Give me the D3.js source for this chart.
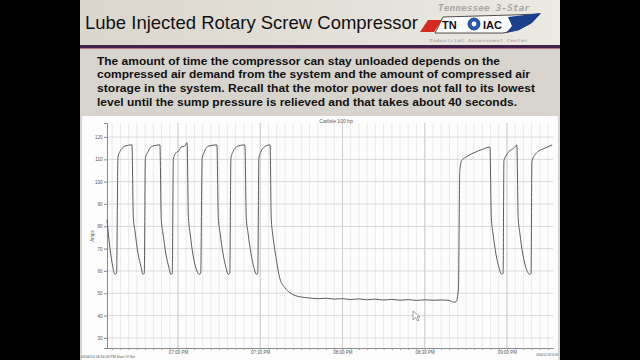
<!DOCTYPE html>
<html>
<head>
<meta charset="utf-8">
<script src="https://cdn.jsdelivr.net/npm/d3@7"></script>
<style>
body { margin: 0; background: #000; }
svg { display: block; font-family: "Liberation Sans", Arial, sans-serif; }
</style>
</head>
<body>
<script>
// data (clock time, amps)
var times = [
  "18:34:06","18:35:12","18:36:12","18:37:00","18:37:36","18:38:06","18:38:48","18:39:36","18:40:42","18:43:12",
  "18:43:42","18:44:18","18:45:24","18:46:30","18:47:12","18:47:42",
  "18:48:06","18:49:06","18:49:48","18:50:54","18:53:24",
  "18:53:54","18:54:30","18:55:36","18:56:42","18:57:24","18:57:54",
  "18:58:18","18:59:18","19:00:24","19:01:06","19:02:30","19:03:18",
  "19:03:48","19:04:24","19:05:30","19:06:36","19:07:42","19:08:18",
  "19:08:48","19:09:30","19:10:12","19:11:18","19:14:12",
  "19:14:42","19:15:18","19:16:24","19:17:30","19:18:18","19:18:54",
  "19:19:18","19:20:06","19:20:48","19:21:54","19:24:24",
  "19:24:54","19:25:30","19:26:36","19:27:42","19:28:36","19:29:06",
  "19:29:30","19:30:18","19:31:00","19:32:06","19:33:36",
  "19:34:00","19:34:36","19:35:42","19:37:12","19:39:00","19:40:48","19:42:42","19:45:12",
  "19:48:00","19:51:00","19:54:00","19:57:00","20:00:00","20:03:00","20:06:00","20:09:00",
  "20:12:00","20:15:00","20:18:00","20:21:00","20:24:00","20:27:00","20:30:00","20:33:00",
  "20:36:00","20:39:00","20:40:36","20:41:30","20:42:18","20:42:48",
  "20:43:30","20:45:00","20:48:00","20:51:00","20:53:48",
  "20:54:18","20:54:54","20:56:00","20:57:06","20:58:06","20:58:36",
  "20:58:54","20:59:36","21:00:42","21:02:30","21:03:36",
  "21:04:06","21:04:42","21:05:48","21:06:54","21:08:24","21:08:48",
  "21:09:06","21:10:12","21:11:18","21:13:48","21:16:30"
];
var amps = [
  83,70,62,58.5,59,111,113.5,115,116,116.5,
  84,78,68,62,58.5,59,
  110.5,113.5,115,116,116.5,
  83,77,67.5,61.5,58.5,59,
  110,113,114,115.5,116,117.5,
  84,77,67,61,58.5,59,
  110.5,113,115,116,116.5,
  84,77.5,68,61.5,58.5,59,
  110.5,113.5,115,116,116.5,
  84,77.5,68,61.5,58.5,59,
  110.5,113.5,115,116,116.5,
  84,76,66.5,56.5,52.5,50.3,49,48.3,
  47.9,47.6,47.8,47.4,47.6,47.2,47.5,47.1,
  47.4,47.0,47.3,46.9,47.2,46.8,47.1,46.9,
  47.0,46.8,46.0,46.3,52,105,
  109.5,111,113,114.5,115.5,
  84,77,67.5,61.5,58.5,59,
  109.5,111.5,113.5,115,116.5,
  84,77,67.5,61.5,58.5,59,
  109,112,113.5,115,116.5
];
var yTicks = [30, 40, 50, 60, 70, 80, 90, 100, 110, 120];
var chartTitle = "Carlisle 100 hp";
var slideTitle = "Lube Injected Rotary Screw Compressor";
var paragraph = [
  "The amount of time the compressor can stay unloaded depends on the",
  "compressed air demand from the system and the amount of compressed air",
  "storage in the system.  Recall that the motor power does not fall to its lowest",
  "level until the sump pressure is relieved and that takes about 40 seconds."
];

var W = 640, H = 360;
var svg = d3.select("body").append("svg").attr("width", W).attr("height", H);

// black pillarbox, then the slide
svg.append("rect").attr("width", W).attr("height", H).attr("fill", "#000");

var defs = svg.append("defs");
var grad = defs.append("linearGradient").attr("id", "band");
grad.append("stop").attr("offset", "0").attr("stop-color", "#dad6cd");
grad.append("stop").attr("offset", "1").attr("stop-color", "#ece9e3");

svg.append("rect").attr("x", 80).attr("y", 0).attr("width", 480).attr("height", 46).attr("fill", "url(#band)");
svg.append("rect").attr("x", 80).attr("y", 46).attr("width", 480).attr("height", 314).attr("fill", "#d7d4cd");
svg.append("rect").attr("x", 80).attr("y", 45).attr("width", 480).attr("height", 3).attr("fill", "#44204f");
svg.append("rect").attr("x", 80).attr("y", 48).attr("width", 480).attr("height", 1).attr("fill", "#b8708a");

// slide title
svg.append("text")
  .attr("x", 85).attr("y", 29)
  .attr("font-size", "19px")
  .attr("textLength", 333).attr("lengthAdjust", "spacingAndGlyphs")
  .attr("fill", "#111")
  .text(slideTitle);

// logo
var logo = svg.append("g");
logo.append("text").attr("x", 438).attr("y", 11)
  .attr("font-family", "'DejaVu Sans Mono', monospace").attr("font-style", "italic").attr("font-weight", "bold")
  .attr("font-size", "8.5px").attr("fill", "#a8a8a8")
  .attr("textLength", 92).attr("lengthAdjust", "spacingAndGlyphs")
  .text("Tennessee 3-Star");
logo.append("path").attr("d", "M420 32 L428 20 L442 20 L434 32 Z").attr("fill", "#d62a20");
logo.append("path").attr("d", "M435 33 L443 17 L512 15 L540 14 L531 23 L518 30 L503 33 Z")
  .attr("fill", "#fff").attr("stroke", "#222").attr("stroke-width", 0.8);
logo.append("path").attr("d", "M508 17 L541 13 L532 23 L519 30 L506 33 L512 26 Z").attr("fill", "#1c3f8e");
logo.append("text").attr("x", 442).attr("y", 29).attr("font-weight", "bold").attr("font-size", "11px").attr("fill", "#111").text("TN");
logo.append("circle").attr("cx", 474).attr("cy", 24).attr("r", 6).attr("fill", "#2a5bb0").attr("stroke", "#0e2d6e").attr("stroke-width", 0.8);
logo.append("circle").attr("cx", 474).attr("cy", 24).attr("r", 2.4).attr("fill", "#fff");
logo.append("text").attr("x", 483).attr("y", 29).attr("font-weight", "bold").attr("font-size", "11px").attr("fill", "#111").text("IAC");
logo.append("text").attr("x", 429).attr("y", 42)
  .attr("font-family", "'DejaVu Sans Mono', monospace").attr("font-size", "4px").attr("fill", "#9c9c9c")
  .attr("textLength", 99).attr("lengthAdjust", "spacingAndGlyphs")
  .text("Industrial Assessment Center");

// paragraph
var lineEnds = [500, 530, 535, 517];
svg.selectAll(".para")
  .data(paragraph)
  .enter().append("text")
  .attr("class", "para")
  .attr("x", 97)
  .attr("y", function(d, i) { return 64.5 + i * 13.7; })
  .attr("font-weight", "bold").attr("font-size", "11.8px").attr("fill", "#111")
  .attr("textLength", function(d, i) { return lineEnds[i] - 97; })
  .attr("lengthAdjust", "spacingAndGlyphs")
  .text(function(d) { return d; });

// chart panel
svg.append("rect").attr("x", 82).attr("y", 116).attr("width", 476).attr("height", 244).attr("fill", "#fdfdfd");

var parse = d3.timeParse("%Y-%m-%d %H:%M:%S");
var data = times.map(function(t, i) { return { t: parse("2014-03-04 " + t), a: amps[i] }; });

// plot box (note: "top" is reserved on window, so use other names)
var pL = 107, pR = 553, pT = 123, pB = 348;
var x = d3.scaleTime()
  .domain([parse("2014-03-04 18:34:06"), parse("2014-03-04 21:16:48")])
  .range([pL, pR]);
var y = d3.scaleLinear().domain([25.5, 126.3]).range([pB, pT]);

var g = svg.append("g");

// minor vertical grid every 3 minutes
g.selectAll(".vminor")
  .data(x.ticks(d3.timeMinute.every(3)))
  .enter().append("line")
  .attr("x1", function(d) { return x(d); }).attr("x2", function(d) { return x(d); })
  .attr("y1", pT).attr("y2", pB)
  .attr("stroke", "#e3e3e3").attr("stroke-width", 0.7);

// major vertical grid every 30 minutes
g.selectAll(".vmajor")
  .data(x.ticks(d3.timeMinute.every(30)))
  .enter().append("line")
  .attr("x1", function(d) { return x(d); }).attr("x2", function(d) { return x(d); })
  .attr("y1", pT).attr("y2", pB)
  .attr("stroke", "#c4c4c4").attr("stroke-width", 0.8);

// horizontal grid
g.selectAll(".hgrid")
  .data(yTicks)
  .enter().append("line")
  .attr("x1", pL - 3).attr("x2", pR)
  .attr("y1", function(d) { return y(d); }).attr("y2", function(d) { return y(d); })
  .attr("stroke", "#cfcfcf").attr("stroke-width", 0.8);

// axes
g.append("g")
  .attr("transform", "translate(" + pL + ",0)")
  .call(d3.axisLeft(y).tickValues(yTicks).tickSize(3).tickPadding(1.5));
g.append("g")
  .attr("transform", "translate(0," + pB + ")")
  .call(d3.axisBottom(x).ticks(d3.timeMinute.every(30)).tickFormat(d3.timeFormat("%I:%M %p")).tickSize(0).tickPadding(3));
g.append("g")
  .attr("transform", "translate(0," + pB + ")")
  .call(d3.axisBottom(x).ticks(d3.timeMinute.every(3)).tickFormat("").tickSize(2))
  .select(".domain").remove();

g.selectAll(".domain").attr("stroke", "#8a8a8a");
g.selectAll(".tick line").attr("stroke", "#999");
g.selectAll(".tick text").attr("font-size", "4.5px").attr("fill", "#555").attr("font-family", "'Liberation Sans', Arial, sans-serif");

// titles
svg.append("text").attr("x", 336).attr("y", 123).attr("text-anchor", "middle")
  .attr("font-size", "5px").attr("fill", "#555").text(chartTitle);
svg.append("text").attr("transform", "translate(94,236) rotate(-90)").attr("text-anchor", "middle")
  .attr("font-size", "4.5px").attr("fill", "#555").text("Amps");

// trace
var line = d3.line()
  .x(function(d) { return x(d.t); })
  .y(function(d) { return y(d.a); })
  .curve(d3.curveMonotoneX);
g.append("path")
  .datum(data)
  .attr("d", line)
  .attr("fill", "none")
  .attr("stroke", "#5a5a5a")
  .attr("stroke-width", 1);

// footer stamps
svg.append("text").attr("x", 81).attr("y", 358).attr("font-size", "4.2px").attr("fill", "#555")
  .attr("textLength", 54).attr("lengthAdjust", "spacingAndGlyphs")
  .text("03/04/14 06:34:06 PM Start Of Set");
svg.append("text").attr("x", 536).attr("y", 356).attr("font-size", "4.2px").attr("fill", "#555")
  .attr("textLength", 22).attr("lengthAdjust", "spacingAndGlyphs")
  .text("03/04/14 09:16:48");

// mouse pointer left on the slide
svg.append("path")
  .attr("d", "M413 311 L413 320 L415.5 317.5 L417.5 321 L419 320.3 L417 317 L420 317 Z")
  .attr("fill", "#fff").attr("stroke", "#666").attr("stroke-width", 0.6);

// slide right edge
svg.append("rect").attr("x", 560).attr("y", 0).attr("width", 80).attr("height", H).attr("fill", "#000");
</script>
</body>
</html>
